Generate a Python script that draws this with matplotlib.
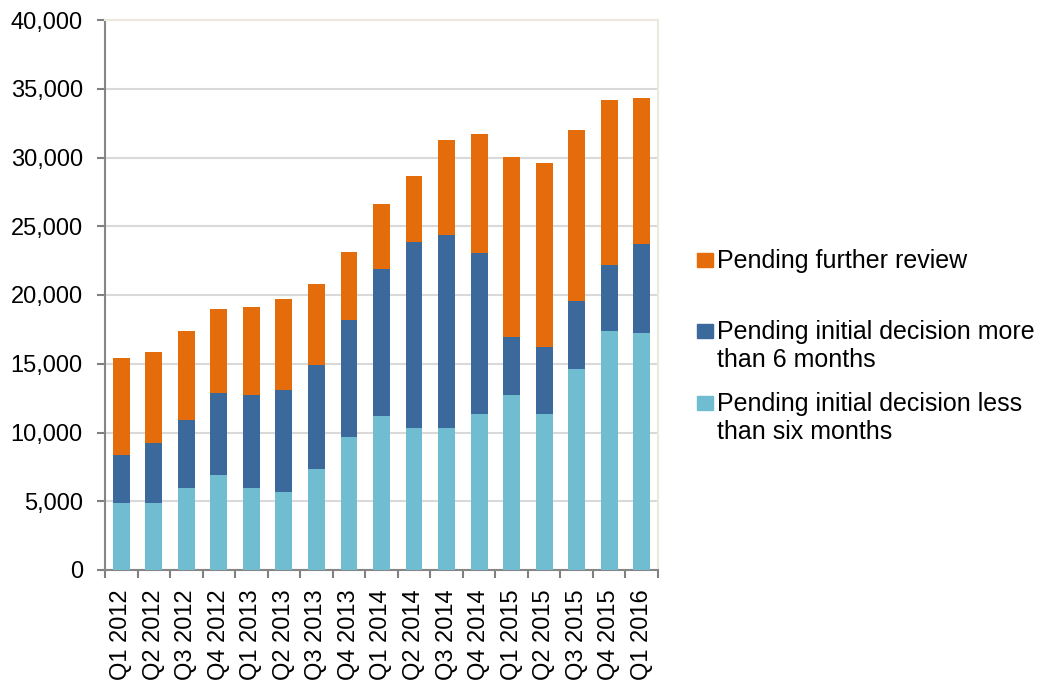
import matplotlib
matplotlib.use('Agg')
import matplotlib.pyplot as plt
from matplotlib.patches import Rectangle
from matplotlib.ticker import FuncFormatter, MultipleLocator
import numpy as np

plt.rcParams['font.family'] = ['Liberation Sans', 'DejaVu Sans']

quarters = ['Q1 2012', 'Q2 2012', 'Q3 2012', 'Q4 2012',
            'Q1 2013', 'Q2 2013', 'Q3 2013', 'Q4 2013',
            'Q1 2014', 'Q2 2014', 'Q3 2014', 'Q4 2014',
            'Q1 2015', 'Q2 2015', 'Q3 2015', 'Q4 2015',
            'Q1 2016']

# pending initial decision less than six months
less_six = [4850, 4850, 5950, 6900, 5950, 5700, 7350, 9700, 11200,
            10350, 10350, 11350, 12700, 11350, 14650, 17400, 17250]
# pending initial decision more than 6 months
more_six = [3550, 4400, 4950, 5950, 6750, 7400, 7550, 8500, 10700,
            13500, 14050, 11700, 4250, 4900, 4950, 4800, 6450]
# pending further review
further = [7050, 6600, 6500, 6150, 6450, 6600, 5900, 4950, 4700,
           4800, 6900, 8650, 13100, 13350, 12400, 12000, 10650]

labels = ['Pending further review',
          'Pending initial decision more\nthan 6 months',
          'Pending initial decision less\nthan six months']
colors = ['#E46C0A', '#3B699C', '#70BCD1']

fig = plt.figure(figsize=(10.4, 6.8), dpi=100)
ax = fig.add_axes([105 / 1040, 110 / 680, 553 / 1040, 550 / 680])

x = np.arange(len(quarters))
w = 0.52
b1 = np.array(less_six)
b2 = b1 + np.array(more_six)
ax.bar(x, less_six, w, color=colors[2], zorder=3)
ax.bar(x, more_six, w, bottom=b1, color=colors[1], zorder=3)
ax.bar(x, further, w, bottom=b2, color=colors[0], zorder=3)

ax.set_xlim(-0.5, len(quarters) - 0.5)
ax.set_ylim(0, 40000)
ax.yaxis.set_major_locator(MultipleLocator(5000))
ax.yaxis.set_major_formatter(FuncFormatter(lambda v, p: f'{int(v):,}'))
ax.yaxis.grid(True, color='#D9D9D9', lw=1.5, zorder=0)

ax.set_xticks(x)
ax.set_xticklabels(quarters, rotation=90)
ax.set_xticks(np.arange(len(quarters) + 1) - 0.5, minor=True)
ax.tick_params(axis='x', which='major', length=0, pad=14, labelsize=17)
ax.tick_params(axis='x', which='minor', length=6, width=1.5, color='#808080')
ax.tick_params(axis='y', length=6, width=1.5, color='#808080', pad=10,
               labelsize=17)

for s in ['left', 'bottom']:
    ax.spines[s].set_color('#868686')
    ax.spines[s].set_linewidth(1.5)
for s in ['top', 'right']:
    ax.spines[s].set_color('#EDE8DF')
    ax.spines[s].set_linewidth(1.5)

# legend drawn by hand to match spacing
leg_y = [260, 331, 403]
for lab, col, yy in zip(labels, colors, leg_y):
    fig.patches.append(Rectangle((697 / 1040, 1 - (yy + 7) / 680), 16 / 1040, 14 / 680,
                                 transform=fig.transFigure, color=col))
    for i, line in enumerate(lab.split('\n')):
        fig.text(717 / 1040, 1 - (yy + 1 + i * 28) / 680, line,
                 fontsize=18, va='center', ha='left')

fig.savefig('out.png', dpi=100)
